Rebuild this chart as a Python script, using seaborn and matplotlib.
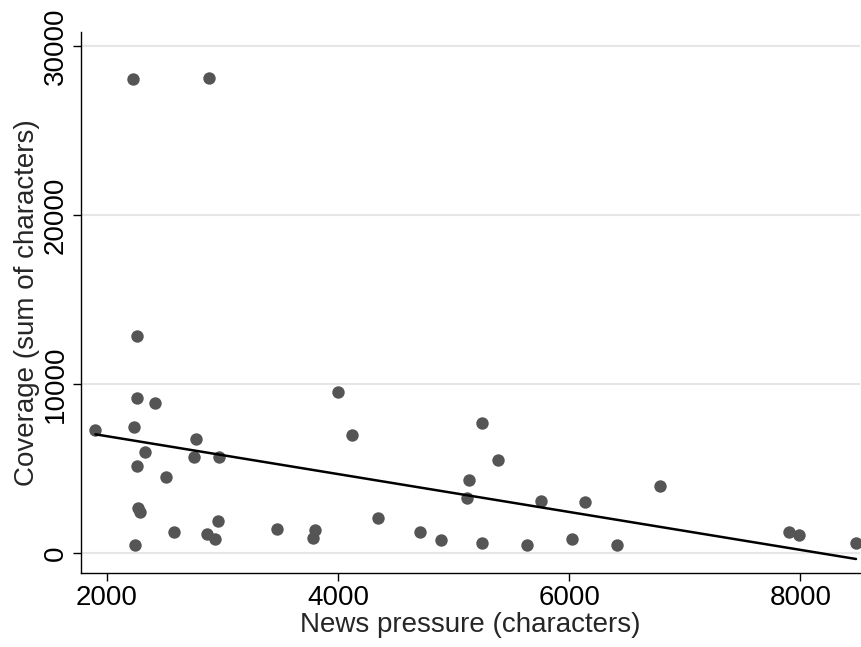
import numpy as np
import pandas as pd
import matplotlib
matplotlib.use("Agg")
import matplotlib.pyplot as plt
import seaborn as sns

news_pressure = [1900, 2262, 2262, 2416, 2234, 2771, 2329, 2756, 2970, 2262,
                 2514, 2271, 2286, 2961, 2578, 2863, 2935, 2242, 3469, 3803,
                 3780, 3997, 4118, 4343, 4705, 4892, 5244, 5388, 5131, 5117,
                 5244, 5636, 5758, 6023, 6133, 6410, 6788, 7899, 7985, 8482,
                 2228, 2886]
coverage = [7300, 12840, 9190, 8856, 7475, 6765, 5996, 5700, 5660, 5168,
            4477, 2643, 2446, 1874, 1223, 1105, 809, 454, 1400, 1361,
            870, 9527, 6982, 2090, 1243, 769, 7712, 5503, 4320, 3234,
            611, 473, 3097, 828, 2998, 473, 3984, 1223, 1065, 572,
            28030, 28090]
# fitted (linear fit) line
fit_x = [1900, 8482]
fit_y = [7024, -355]
x_ticks = [2000, 4000, 6000, 8000]
y_ticks = [0, 10000, 20000, 30000]

df = pd.DataFrame({"x": news_pressure, "y": coverage})
fit = pd.DataFrame({"x": fit_x, "y": fit_y})

sns.set_style("white")
plt.rcParams["font.family"] = ["Liberation Sans", "DejaVu Sans"]

fig = plt.figure(figsize=(8.62, 6.47), dpi=100)
ax = fig.add_axes([0.094, 0.1144, 0.904, 0.836])

sns.scatterplot(data=df, x="x", y="y", ax=ax, s=80, color="#555555",
                linewidth=0, zorder=3)
sns.lineplot(data=fit, x="x", y="y", ax=ax, color="black", lw=1.8, zorder=4)

ax.set_xlim(1775, 8519)
ax.set_ylim(-1183, 30828)
ax.set_xticks(x_ticks)
ax.set_yticks(y_ticks)
ax.set_xticklabels([str(v) for v in x_ticks], fontsize=20)
ax.set_yticklabels([str(v) for v in y_ticks], fontsize=20, rotation=90, va="center")
ax.set_xlabel("News pressure (characters)", fontsize=20, labelpad=0.5)
ax.set_ylabel("Coverage (sum of characters)", fontsize=20, labelpad=2)

ax.yaxis.grid(True, color="#e6e6e6", lw=1.5)
ax.set_axisbelow(True)
for s in ["top", "right"]:
    ax.spines[s].set_visible(False)
for s in ["left", "bottom"]:
    ax.spines[s].set_color("black")
    ax.spines[s].set_linewidth(1.0)
ax.tick_params(axis="both", direction="out", length=6, width=1, color="black",
               bottom=True, left=True, pad=3, labelcolor="black")

fig.savefig("out.png", dpi=100)
